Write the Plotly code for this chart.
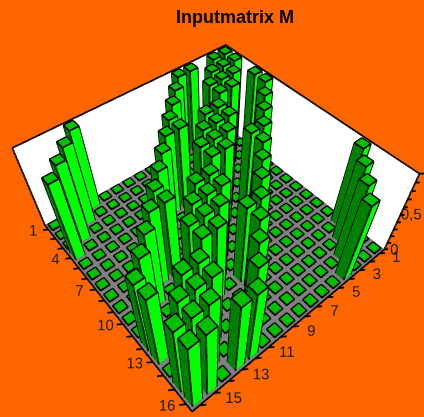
import plotly.graph_objects as go

title = "Inputmatrix M"
M = [
 "1101100000001000",
 "1110010000000100",
 "0111001000000010",
 "1011000100000001",
 "1000110110000000",
 "0100111001000000",
 "0010011100100000",
 "0001101100010000",
 "0000100011011000",
 "0000010011100100",
 "0000001001110010",
 "0000000110110001",
 "1000000010001101",
 "0100000001001110",
 "0010000000100111",
 "0001000000011011",
]
row_labels = [1, 4, 7, 10, 13, 16]
col_labels = [1, 3, 5, 7, 9, 11, 13, 15]
z_labels = {0: "0", 0.5: "0,5"}
z_ticks = [0, .1, .2, .3, .4, .5, .6, .7, .8, .9, 1]

ORANGE = "#FF6600"
TOP, SIDE_X, SIDE_Y = "#00C000", "#008000", "#00FF00"
GRAY = "#808080"
FONT = "Liberation Sans"
W = 0.65
LO, HI = 0.5, 16.5

vx, vy, vz, fi, fj, fk, fc = [], [], [], [], [], [], []
def quad(pts, col):
    n = len(vx)
    for p in pts:
        vx.append(p[0]); vy.append(p[1]); vz.append(p[2])
    fi.extend([n, n]); fj.extend([n+1, n+2]); fk.extend([n+2, n+3]); fc.extend([col, col])

lx, ly, lz = [], [], []
def line(*pts):
    for p in pts:
        lx.append(p[0]); ly.append(p[1]); lz.append(p[2])
    lx.append(None); ly.append(None); lz.append(None)

# floor and back walls
quad([(LO,LO,0),(HI,LO,0),(HI,HI,0),(LO,HI,0)], GRAY)
quad([(LO,LO,0),(HI,LO,0),(HI,LO,1),(LO,LO,1)], "#FFFFFF")
quad([(LO,LO,0),(LO,HI,0),(LO,HI,1),(LO,LO,1)], "#FFFFFF")
line((HI,LO,1),(LO,LO,1),(LO,HI,1),(LO,HI,0),(HI,HI,0),(HI,LO,0),(HI,LO,1))

# bars
for r, row in enumerate(M):
    for c, ch in enumerate(row):
        h = float(ch)
        x, y = c+1, r+1
        a, b = x-W/2, x+W/2
        d, e = y-W/2, y+W/2
        t = h if h > 0 else 0.012
        quad([(a,d,t),(b,d,t),(b,e,t),(a,e,t)], TOP)
        line((a,d,t+.002),(b,d,t+.002),(b,e,t+.002),(a,e,t+.002),(a,d,t+.002))
        if h > 0:
            quad([(b,d,0),(b,e,0),(b,e,h),(b,d,h)], SIDE_X)
            quad([(a,e,0),(b,e,0),(b,e,h),(a,e,h)], SIDE_Y)
            quad([(a,d,0),(a,e,0),(a,e,h),(a,d,h)], SIDE_X)
            quad([(a,d,0),(b,d,0),(b,d,h),(a,d,h)], SIDE_Y)
            line((b,d,0),(b,d,h)); line((b,e,0),(b,e,h)); line((a,e,0),(a,e,h))
            line((a,d,0),(b,d,0),(b,e,0),(a,e,0),(a,d,0))

# ticks
for i in range(1, 17):
    line((HI,i,0),(HI+.3,i-.2,0))
    line((i,HI,0),(i-.3,HI+.2,0))
for z in z_ticks:
    line((LO,HI,z),(LO-.2,HI+.15,z))

tx = [HI+.8 for _ in row_labels]; ty = [i-.6 for i in row_labels]; tz = [0]*len(row_labels)
tt = [str(i) for i in row_labels]
tx += [j-.65 for j in col_labels]; ty += [HI+.85 for _ in col_labels]; tz += [0]*len(col_labels)
tt += [str(j) for j in col_labels]

fig = go.Figure()
fig.add_trace(go.Mesh3d(x=vx, y=vy, z=vz, i=fi, j=fj, k=fk, facecolor=fc, flatshading=True,
    lighting=dict(ambient=1, diffuse=0, specular=0, roughness=1, fresnel=0), hoverinfo="skip"))
fig.add_trace(go.Scatter3d(x=lx, y=ly, z=lz, mode="lines", line=dict(color="black", width=3.5), hoverinfo="skip"))
fig.add_trace(go.Scatter3d(x=tx, y=ty, z=tz, mode="text", text=tt, textposition="middle center",
    textfont=dict(family=FONT, size=15, color="#202020"), hoverinfo="skip"))
zv = list(z_labels)
fig.add_trace(go.Scatter3d(x=[LO-.5]*len(zv), y=[HI+.4]*len(zv), z=zv, mode="text",
    text=[z_labels[v] for v in zv], textposition="middle center",
    textfont=dict(family=FONT, size=15, color="#202020"), hoverinfo="skip"))

RLO, RHI = -7.5, 24.5
ZLO, ZHI = -1, 2
AZ = 0.4485
axis = dict(visible=False, showspikes=False)
fig.update_layout(
    width=424, height=417, margin=dict(l=0, r=0, t=0, b=0), paper_bgcolor=ORANGE,
    showlegend=False, hovermode=False,
    title=dict(text="<b>%s</b>" % title, x=235/424, xanchor="center", y=1-17/417, yanchor="middle",
               font=dict(family=FONT, size=18, color="black")),
    scene=dict(
        domain=dict(x=[0, 1], y=[0, 1]), bgcolor=ORANGE,
        xaxis=dict(range=[RLO, RHI], **axis), yaxis=dict(range=[RLO, RHI], **axis),
        zaxis=dict(range=[ZLO, ZHI], **axis),
        aspectmode="manual",
        aspectratio=dict(x=(RHI-RLO)/16, y=(RHI-RLO)/16, z=(ZHI-ZLO)*AZ),
        camera=dict(eye=dict(x=0.7889, y=0.9464, z=1.4669),
                    center=dict(x=-0.0828, y=-0.0950, z=-0.1915),
                    up=dict(x=0, y=0, z=1),
                    projection=dict(type="perspective")),
    ),
)
fig.write_html("out.html", config=dict(displayModeBar=False),
               post_script="document.body.style.margin='0';document.body.style.background='#FF6600';")
